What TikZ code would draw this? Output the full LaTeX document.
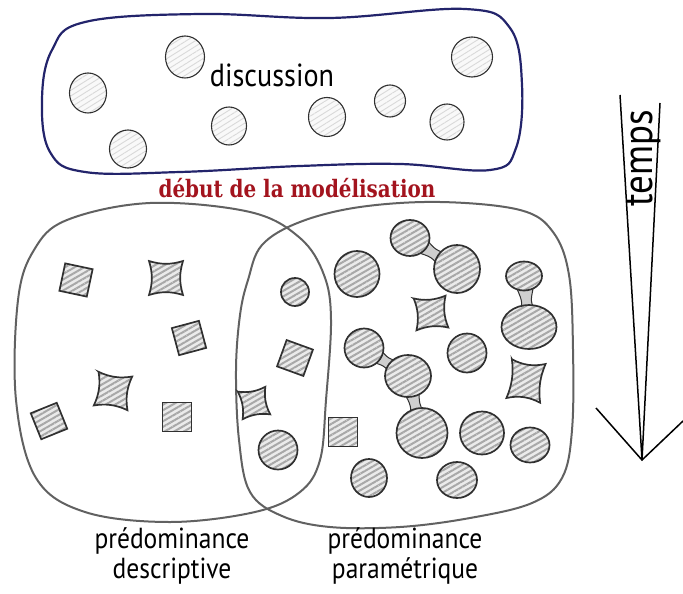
\documentclass[tikz,border=0pt]{standalone}
\usepackage{fontspec}
\setmainfont{PT Sans}[FakeStretch=0.88]
\newfontfamily\titrefont{DejaVu Serif}[FakeStretch=0.83]
\usetikzlibrary{patterns.meta,calc}

\definecolor{bleunuit}{HTML}{23246B}
\definecolor{rougetitre}{HTML}{A3141E}
\definecolor{contour}{HTML}{616161}
\definecolor{trait}{HTML}{303030}

\tikzset{
  enveloppe/.style={draw=bleunuit, line width=1.1pt},
  bulle/.style={draw=contour, line width=1pt},
  rondclair/.style={draw=trait, line width=0.55pt,
    preaction={fill=gray!5},
    preaction={pattern={Lines[angle=32,distance=2.4pt,line width=0.45pt]}, pattern color=gray!30}},
  forme/.style={draw=trait, line width=0.85pt,
    preaction={fill=gray!16},
    preaction={pattern={Lines[angle=30,distance=2.4pt,line width=1pt]}, pattern color=gray!68}},
  col/.style={draw=trait, line width=0.5pt, fill=gray!38},
  pics/carre/.style={code={\path[forme] (-#1,-#1) rectangle (#1,#1);}},
  pics/etoile/.style={code={
    \path[forme] (-#1,-#1) .. controls ({-0.3*#1},{-0.78*#1}) and ({0.3*#1},{-0.78*#1}) .. (#1,-#1)
      .. controls ({0.78*#1},{-0.3*#1}) and ({0.78*#1},{0.3*#1}) .. (#1,#1)
      .. controls ({0.3*#1},{0.78*#1}) and ({-0.3*#1},{0.78*#1}) .. (-#1,#1)
      .. controls ({-0.78*#1},{0.3*#1}) and ({-0.78*#1},{-0.3*#1}) .. cycle;}},
}

\begin{document}
\begin{tikzpicture}[x=0.5pt,y=-0.5pt]
\useasboundingbox (0,0) rectangle (683,593);

% la discussion
\draw[enveloppe] plot[smooth cycle, tension=0.65] coordinates {
  (85,22) (200,14) (330,18) (465,9) (510,28) (522,85) (516,148) (490,170)
  (400,164) (300,166) (180,172) (85,172) (50,152) (42,100) (52,50)};
\foreach \x/\y/\rx/\ry in {185/57/19.5/21, 88/93/18.5/20, 128/149/18.5/19,
    229/126/17.5/19, 327/117/18.5/19.5, 390/101/15.5/16, 447/122/17/18, 472/57/20.5/20}
  \path[rondclair] (\x,\y) ellipse[x radius=\rx, y radius=\ry];
\node[font=\fontsize{16}{18}\selectfont, anchor=base] (discussion) at (272,87) {discussion};

\node[text=rougetitre, font=\titrefont\bfseries\fontsize{12}{14}\selectfont, anchor=base]
  (debut) at (297,197) {début de la modélisation};

% les deux ensembles
\draw[bulle] plot[smooth cycle, tension=0.6] coordinates {
  (67,220) (150,203) (250,212) (300,238) (324,275) (331,320) (326,400) (320,460)
  (300,492) (255,512) (170,522) (85,512) (36,478) (16,400) (18,300) (34,250)};
\draw[bulle] plot[smooth cycle, tension=0.6] coordinates {
  (262,245) (300,222) (360,207) (440,202) (520,210) (553,232) (569,275) (573,350)
  (572,430) (562,478) (532,503) (470,518) (400,527) (330,527) (282,516) (250,492)
  (239,440) (236,370) (240,315) (248,280)};

% descriptif
\pic[rotate=-12] at (76,280) {carre=14};
\pic[rotate=15] at (189,338) {carre=14};
\pic[rotate=22] at (49,421) {carre=14};
\pic at (177,417) {carre=14.5};
\pic at (166,278) {etoile=17};
\pic[rotate=-8] at (113,391) {etoile=17};

% zone commune
\path[forme] (295,292) circle[radius=14];
\pic[rotate=-20] at (295,358) {carre=14};
\pic[rotate=10] at (254,403) {etoile=14};
\path[forme] (278,450) circle[radius=19.5];

% parametrique
\coordinate (a1) at (410,238);
\coordinate (a2) at (457,269);
\coordinate (b1) at (524,276);
\coordinate (b2) at (529,327);
\coordinate (c1) at (364,348);
\coordinate (c2) at (408,376);
\coordinate (c3) at (422,433);
\foreach \p/\q in {a1/a2, b1/b2, c1/c2, c2/c3}
  \path[col] ($(\p)!0.25!(\q)!4pt!90:(\q)$) .. controls ($(\p)!0.5!(\q)!2pt!90:(\q)$) .. ($(\p)!0.75!(\q)!4pt!90:(\q)$)
    -- ($(\p)!0.75!(\q)!4pt!-90:(\q)$) .. controls ($(\p)!0.5!(\q)!2pt!-90:(\q)$) .. ($(\p)!0.25!(\q)!4pt!-90:(\q)$) -- cycle;
\path[forme] (a1) ellipse[x radius=19.5, y radius=18];
\path[forme] (a2) ellipse[x radius=23, y radius=24];
\path[forme] (b1) ellipse[x radius=18, y radius=14.5];
\path[forme] (b2) ellipse[x radius=27.5, y radius=22];
\path[forme] (c1) circle[radius=19.5];
\path[forme] (c2) ellipse[x radius=23, y radius=21];
\path[forme] (c3) ellipse[x radius=25.5, y radius=25];
\path[forme] (357,274) ellipse[x radius=22.5, y radius=23];
\path[forme] (467,353) circle[radius=19.5];
\path[forme] (482,433) ellipse[x radius=22, y radius=21.5];
\path[forme] (530,445) ellipse[x radius=19.5, y radius=17.5];
\path[forme] (369,478) ellipse[x radius=18, y radius=19];
\path[forme] (457,480) ellipse[x radius=20, y radius=18];
\pic at (343,432) {carre=14.5};
\pic[rotate=5] at (431,313) {etoile=16};
\pic[rotate=-8, yscale=1.15] at (526,381) {etoile=17};

% le temps
\coordinate (pointe) at (642,460);
\draw[line width=0.75pt] (620,95) -- (pointe) -- (660,103);
\draw[line width=0.75pt] (596,408) -- (pointe) -- (683,421);
\node[rotate=90, anchor=base, font=\fontsize{21}{24}\selectfont] (temps) at (652,158) {temps};

\node[align=center, anchor=base, font=\fontsize{14.5}{15}\selectfont] (descr) at (172,578)
  {prédominance\\descriptive};
\node[align=center, anchor=base, font=\fontsize{14.5}{15}\selectfont] (param) at (405,578)
  {prédominance\\paramétrique};
\end{tikzpicture}
\end{document}
